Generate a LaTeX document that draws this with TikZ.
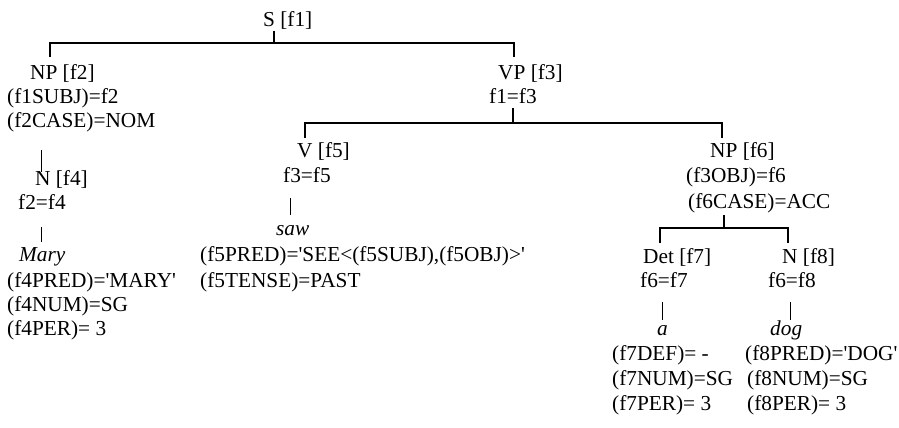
\documentclass[tikz,border=0pt]{standalone}
\usepackage{fontspec}
\setmainfont{Liberation Serif}
\newcommand{\sq}{\textquotesingle}
\begin{document}
\begin{tikzpicture}[x=1pt,y=-1pt,
  lbl/.style={anchor=base west,inner sep=0pt,font=\fontsize{21.3}{24}\selectfont},
  brk/.style={line width=1.8pt},
  bar/.style={line width=1pt}]
\useasboundingbox (0,0) rectangle (899,428);
% labels
\node[lbl] (s) at (263,27) {S [f1]};
\node[lbl] (np2) at (30,79) {NP [f2]};
\node[lbl] (np2a) at (7,103) {(f1SUBJ)=f2};
\node[lbl] (np2b) at (7,127) {(f2CASE)=NOM};
\node[lbl] (n4) at (35,185) {N [f4]};
\node[lbl] (n4a) at (18,209) {f2=f4};
\node[lbl] (mary) at (19,261) {\itshape Mary};
\node[lbl] (marya) at (7,287) {(f4PRED)=\sq MARY\sq};
\node[lbl] (maryb) at (7,311) {(f4NUM)=SG};
\node[lbl] (maryc) at (7,335) {(f4PER)= 3};
\node[lbl] (vp3) at (498,79) {VP [f3]};
\node[lbl] (vp3a) at (489,103) {f1=f3};
\node[lbl] (v5) at (297,157) {V [f5]};
\node[lbl] (v5a) at (283,182) {f3=f5};
\node[lbl] (saw) at (276,235) {\itshape saw};
\node[lbl] (sawa) at (200,261) {(f5PRED)=\sq SEE<(f5SUBJ),(f5OBJ)>\sq};
\node[lbl] (sawb) at (200,287) {(f5TENSE)=PAST};
\node[lbl] (np6) at (710,157) {NP [f6]};
\node[lbl] (np6a) at (686,182) {(f3OBJ)=f6};
\node[lbl] (np6b) at (688,208) {(f6CASE)=ACC};
\node[lbl] (det7) at (643,263) {Det [f7]};
\node[lbl] (det7a) at (640,287) {f6=f7};
\node[lbl] (a) at (657,335) {\itshape a};
\node[lbl] (aa) at (612,360) {(f7DEF)= -};
\node[lbl] (ab) at (612,385) {(f7NUM)=SG};
\node[lbl] (ac) at (612,410) {(f7PER)= 3};
\node[lbl] (n8) at (782,263) {N [f8]};
\node[lbl] (n8a) at (768,287) {f6=f8};
\node[lbl] (dog) at (770,335) {\itshape dog};
\node[lbl] (doga) at (745,360) {(f8PRED)=\sq DOG\sq};
\node[lbl] (dogb) at (747,385) {(f8NUM)=SG};
\node[lbl] (dogc) at (747,410) {(f8PER)= 3};
% bracket coordinates
\coordinate (sT) at (274,31);
\coordinate (sJ) at (274,43);
\coordinate (np2T) at (50,57);
\coordinate (vp3T) at (514,57);
\coordinate (vpT) at (513,108);
\coordinate (vpJ) at (513,123);
\coordinate (v5T) at (305,138);
\coordinate (np6T) at (722,138);
\coordinate (npT) at (724,215);
\coordinate (npJ) at (724,228);
\coordinate (det7T) at (660,243);
\coordinate (n8T) at (788,243);
% brackets
\draw[brk] (sT) -- (sJ);
\draw[brk] (np2T) |- (sJ) -| (vp3T);
\draw[brk] (vpT) -- (vpJ);
\draw[brk] (v5T) |- (vpJ) -| (np6T);
\draw[brk] (npT) -- (npJ);
\draw[brk] (det7T) |- (npJ) -| (n8T);
% bars
\coordinate (b1T) at (41,150); \coordinate (b1B) at (41,172);
\coordinate (b2T) at (41,227); \coordinate (b2B) at (41,242);
\coordinate (b3T) at (290,198); \coordinate (b3B) at (290,215);
\coordinate (b4T) at (662,302); \coordinate (b4B) at (662,320);
\coordinate (b5T) at (790,302); \coordinate (b5B) at (790,320);
\draw[bar] (b1T) -- (b1B);
\draw[bar] (b2T) -- (b2B);
\draw[bar] (b3T) -- (b3B);
\draw[bar] (b4T) -- (b4B);
\draw[bar] (b5T) -- (b5B);
\end{tikzpicture}
\end{document}
